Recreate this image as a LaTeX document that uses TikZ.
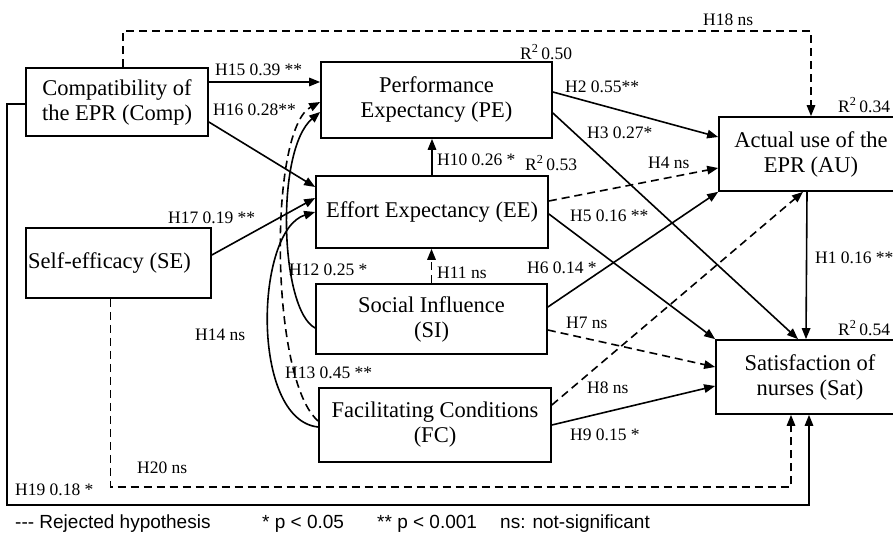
\documentclass[tikz,border=0pt]{standalone}
\usepackage{fontspec}
\setmainfont{Liberation Serif}
\setsansfont{Liberation Sans}
\usepackage{tikz}
\usetikzlibrary{arrows.meta}

\begin{document}
\begin{tikzpicture}[x=1pt, y=-1pt,
    bx/.style={rectangle, draw=black, line width=1.7pt, align=center,
               font=\fontsize{22.5}{25}\selectfont, inner sep=0pt},
    a/.style={-{Triangle[length=11pt, width=8.5pt]}, draw=black, line width=1.6pt},
    da/.style={a, dash pattern=on 8pt off 5pt},
    lb/.style={anchor=west, inner sep=0pt, font=\fontsize{17.5}{19}\selectfont},
    lg/.style={anchor=base west, inner sep=0pt, font=\sffamily\fontsize{19}{21}\selectfont}]
  \useasboundingbox (0,0) rectangle (893,534);
  \node[bx, minimum width=182pt, minimum height=68pt] (comp) at (117,102) {Compatibility of\\the EPR (Comp)};
  \node[bx, minimum width=185pt, minimum height=70pt] (se) at (118.5,263) {Self-efficacy (SE)\hspace*{18pt}};
  \node[bx, minimum width=231pt, minimum height=76pt] (pe) at (436.5,100) {Performance\\Expectancy (PE)};
  \node[bx, minimum width=232pt, minimum height=72pt] (ee) at (432,212) {Effort Expectancy (EE)};
  \node[bx, minimum width=231pt, minimum height=70pt] (si) at (431.5,319) {Social Influence\\(SI)};
  \node[bx, minimum width=232pt, minimum height=74pt] (fc) at (435,425) {Facilitating Conditions\\(FC)};
  \node[bx, minimum width=184pt, minimum height=74pt] (au) at (811,154) {Actual use of the\\EPR (AU)};
  \node[bx, minimum width=188pt, minimum height=74pt] (sat) at (810,377) {Satisfaction of\\nurses (Sat)};

  \draw[da] ([xshift=6pt]comp.north) -- ++(0,-36) -| (au.north);
  \draw[a] ([yshift=20pt]comp.east) -- ([yshift=20pt]comp.east -| pe.west);
  \draw[a] ([yshift=-20pt]comp.east) -- ([yshift=25pt]ee.west);
  \draw[a] ([yshift=8pt]se.east) -- ([yshift=14pt]ee.west);
  \draw[a] ([yshift=-9pt]si.west) .. controls (280,310) and (275,150) .. ([yshift=-12pt]pe.west);
  \draw[da] ([yshift=4pt]fc.west) .. controls (270,380) and (268,130) .. ([yshift=-2pt]pe.west);
  \draw[a] ([yshift=-2pt]fc.west) .. controls (250,420) and (255,230) .. (ee.west);
  \draw[a] (ee.north) -- (pe.south -| ee.north);
  \draw[da] (si.north) -- (ee.south -| si.north);
  \draw[a] ([yshift=8pt]pe.east) -- ([yshift=17pt]au.west);
  \draw[a] ([yshift=-13pt]pe.east) -- ([xshift=-12pt]sat.north);
  \draw[da] ([yshift=11pt]ee.east) -- ([yshift=-14pt]au.west);
  \draw[a] ([yshift=-2pt]ee.east) -- (sat.north west);
  \draw[a] ([yshift=12pt]si.east) -- (au.south west);
  \draw[da] ([yshift=-11pt]si.east) -- ([yshift=10pt]sat.west);
  \draw[da] ([yshift=20pt]fc.east) -- ([xshift=-8pt]au.south);
  \draw[a] (fc.east) -- ([yshift=-9pt]sat.west);
  \draw[a] ([xshift=-4pt]au.south) -- ([xshift=-4pt]sat.north);
  \draw[da] ([xshift=-8pt]se.south) -- ++(0,188) -| ([xshift=-19pt]sat.south);
  \draw[a] ([yshift=-2pt]comp.west) -- ++(-18,0) -- ++(0,401) -| ([xshift=-1pt]sat.south);

  \node[lb] (l18) at (703,20) {H18 ns};
  \node[lb] (l15) at (215,70) {H15 0.39 **};
  \node[lb] (l16) at (213,110) {H16 0.28**};
  \node[lb] (l17) at (168,218) {H17 0.19 **};
  \node[lb] (rpe) at (520,52) {R\textsuperscript{2}\,0.50};
  \node[lb] (l2) at (565,87) {H2 0.55**};
  \node[lb] (l3) at (587,133) {H3 0.27*};
  \node[lb] (rau) at (838,105) {R\textsuperscript{2}\,0.34};
  \node[lb] (l10) at (437,160) {H10 0.26 *};
  \node[lb] (ree) at (525,163) {R\textsuperscript{2}\,0.53};
  \node[lb] (l4) at (648,163) {H4 ns};
  \node[lb] (l5) at (570,216) {H5 0.16 **};
  \node[lb] (l11) at (437,273) {H11 ns};
  \node[lb] (l6) at (527,268) {H6 0.14 *};
  \node[lb] (l1) at (815,258) {H1 0.16 **};
  \node[lb] (l12) at (289,270) {H12 0.25 *};
  \node[lb] (l14) at (195,335) {H14 ns};
  \node[lb] (l13) at (285,373) {H13 0.45 **};
  \node[lb] (l7) at (566,323) {H7 ns};
  \node[lb] (l8) at (587,388) {H8 ns};
  \node[lb] (l9) at (570,435) {H9 0.15 *};
  \node[lb] (rsat) at (838,328) {R\textsuperscript{2}\,0.54};
  \node[lb] (l20) at (137,468) {H20 ns};
  \node[lb] (l19) at (15,490) {H19 0.18 *};

  \node[lg] (lrej) at (15,528) {-{}-{}- Rejected hypothesis};
  \node[lg] (lp1) at (262,528) {* p < 0.05};
  \node[lg] (lp2) at (377,528) {** p < 0.001};
  \node[lg] (lns) at (500,528) {ns: not-significant};
\end{tikzpicture}
\end{document}
